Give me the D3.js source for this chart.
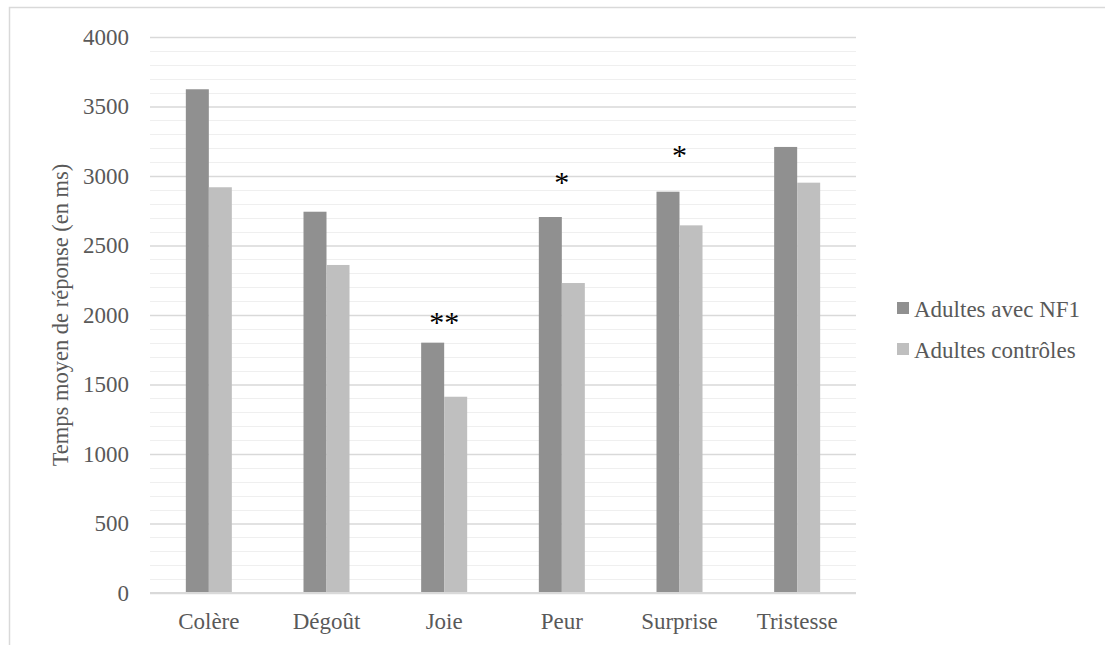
<!DOCTYPE html>
<html>
<head>
<meta charset="utf-8">
<script src="https://cdn.jsdelivr.net/npm/d3@7/dist/d3.min.js"></script>
<style>
  html, body { margin: 0; padding: 0; background: #fff; }
  svg { display: block; }
  text { font-family: "Liberation Serif", "Times New Roman", serif; }
</style>
</head>
<body>
<svg id="chart" width="1105" height="645"></svg>
<script>
// ---- data ----
const categories = ["Colère", "Dégoût", "Joie", "Peur", "Surprise", "Tristesse"];
const seriesNames = ["Adultes avec NF1", "Adultes contrôles"];
const nf1Values = [3624, 2743, 1801, 2705, 2887, 3209];
const controlValues = [2919, 2360, 1412, 2230, 2645, 2952];
const yTicks = [0, 500, 1000, 1500, 2000, 2500, 3000, 3500, 4000];
const sigCategories = ["Joie", "Peur", "Surprise"];
const sigLabels = ["**", "*", "*"];
const sigLevels = [1880, 2885, 3080];
const yTitle = "Temps moyen de réponse (en ms)";

// ---- layout ----
const W = 1105, H = 645;
const plot = { left: 150, right: 856, top: 37, bottom: 593 };
const colors = ["#909090", "#bfbfbf"];
const textColor = "#595959";

const svg = d3.select("#chart");

// outer border
svg.append("rect")
  .attr("x", 9.5).attr("y", 7.5)
  .attr("width", W + 20).attr("height", H + 20)
  .attr("fill", "none").attr("stroke", "#d9d9d9").attr("stroke-width", 1.5);

const y = d3.scaleLinear().domain([0, 4000]).range([plot.bottom, plot.top]);
const x0 = d3.scaleBand().domain(categories).range([plot.left, plot.right]).padding(0);
const bw = x0.bandwidth();
const x1 = d3.scaleBand().domain(seriesNames).range([bw * 0.3045, bw * 0.6955]).padding(0);

// minor gridlines
const minor = d3.range(100, 4001, 100).filter(v => v % 500 !== 0);
svg.append("g").selectAll("line").data(minor).join("line")
  .attr("x1", plot.left).attr("x2", plot.right)
  .attr("y1", d => Math.round(y(d)) + 0.5).attr("y2", d => Math.round(y(d)) + 0.5)
  .attr("stroke", "#efefef").attr("stroke-width", 1.2);

// y axis (major gridlines + labels)
const yAxis = d3.axisLeft(y).tickValues(yTicks).tickSize(-(plot.right - plot.left)).tickPadding(21).tickFormat(d3.format("d"));
const gy = svg.append("g").attr("transform", `translate(${plot.left},0)`).call(yAxis);
gy.select(".domain").remove();
gy.selectAll(".tick line").attr("stroke", "#d9d9d9").attr("stroke-width", 1.3);
gy.selectAll(".tick text")
  .attr("fill", textColor).attr("font-size", 23)
  .attr("font-family", "'Liberation Serif', 'Times New Roman', serif");

// bars
const rows = categories.map((c, i) => ({ cat: c, vals: [nf1Values[i], controlValues[i]] }));
const groups = svg.append("g").selectAll("g").data(rows).join("g")
  .attr("transform", d => `translate(${x0(d.cat)},0)`);
groups.selectAll("rect").data(d => d.vals.map((v, j) => ({ s: seriesNames[j], v, j })))
  .join("rect")
  .attr("x", d => x1(d.s))
  .attr("width", x1.bandwidth())
  .attr("y", d => y(d.v))
  .attr("height", d => y(0) - y(d.v))
  .attr("fill", d => colors[d.j]);

// baseline
svg.append("line")
  .attr("x1", plot.left).attr("x2", plot.right)
  .attr("y1", y(0)).attr("y2", y(0))
  .attr("stroke", "#d9d9d9").attr("stroke-width", 2);

// x axis labels
const xAxis = d3.axisBottom(x0).tickSize(0).tickPadding(20);
const gx = svg.append("g").attr("transform", `translate(0,${plot.bottom})`).call(xAxis);
gx.select(".domain").remove();
gx.selectAll(".tick text")
  .attr("fill", textColor).attr("font-size", 23)
  .attr("font-family", "'Liberation Serif', 'Times New Roman', serif");

// significance markers
svg.append("g").selectAll("text").data(sigCategories.map((c, i) => ({ c, l: sigLabels[i], v: sigLevels[i] })))
  .join("text")
  .attr("x", d => x0(d.c) + bw / 2)
  .attr("y", d => y(d.v))
  .attr("text-anchor", "middle")
  .attr("font-size", 30)
  .attr("fill", "#000")
  .text(d => d.l);

// y title
svg.append("text")
  .attr("transform", `translate(68,${(plot.top + plot.bottom) / 2}) rotate(-90)`)
  .attr("text-anchor", "middle")
  .attr("font-size", 22.5)
  .attr("fill", textColor)
  .text(yTitle);

// legend
const leg = svg.append("g").attr("transform", "translate(897,302)");
const li = leg.selectAll("g").data(seriesNames).join("g")
  .attr("transform", (d, i) => `translate(0,${i * 41})`);
li.append("rect").attr("width", 12).attr("height", 12).attr("fill", (d, i) => colors[i]);
li.append("text").attr("x", 17).attr("y", 14.5)
  .attr("font-size", 23).attr("fill", textColor).text(d => d);
</script>
</body>
</html>
